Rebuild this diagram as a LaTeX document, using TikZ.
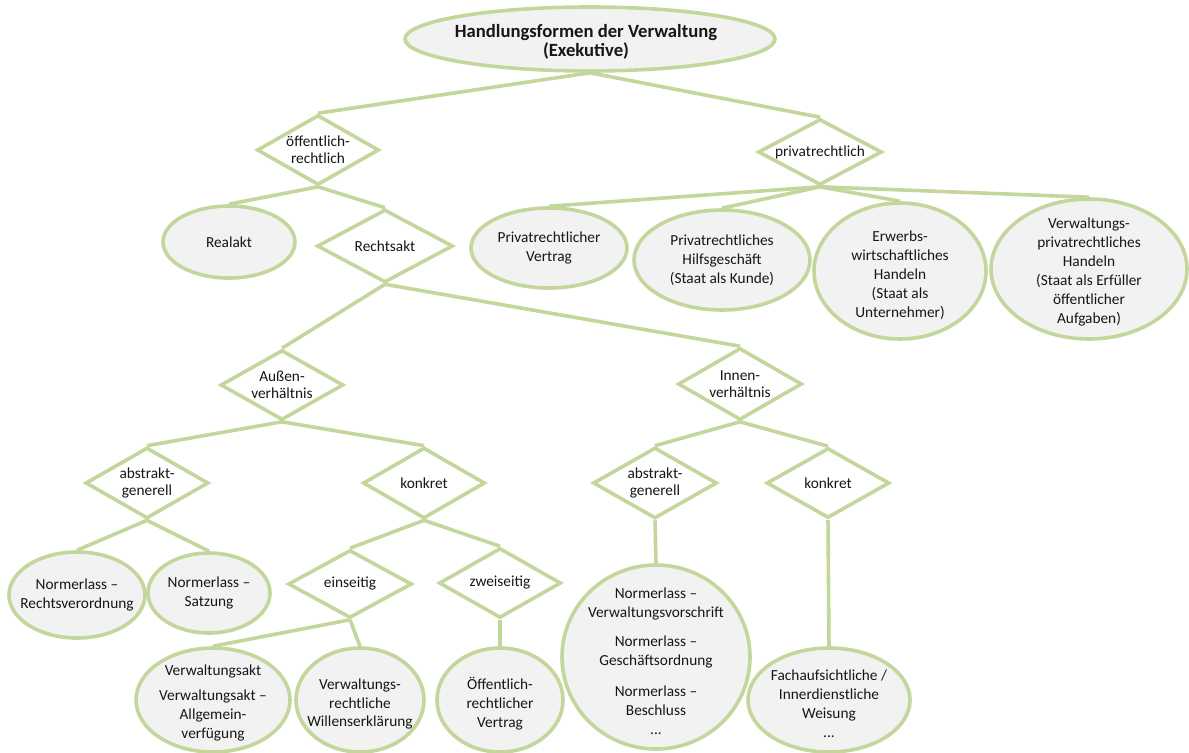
\documentclass[tikz,border=0pt]{standalone}
\usepackage{fontspec}
\setmainfont{Carlito}
\usetikzlibrary{shapes.geometric,backgrounds}
\definecolor{lgreen}{HTML}{C3D69B}
\definecolor{efill}{HTML}{F2F2F2}
\definecolor{txt}{HTML}{161616}
\begin{document}
\begin{tikzpicture}[x=0.75pt,y=-0.75pt,
  ell/.style 2 args={ellipse, draw=lgreen, fill=efill, line width=2.7pt, inner sep=0pt,
    minimum width=#1*0.75pt, minimum height=#2*0.75pt},
  dia/.style 2 args={diamond, draw=lgreen, fill=white, line width=2.7pt, inner sep=0pt,
    minimum width=#1*0.75pt, minimum height=#2*0.75pt},
  conn/.style={draw=lgreen, line width=2.7pt},
  lab/.style={font=\fontsize{11.5}{14.2}\selectfont, text=txt, align=center, inner sep=0pt},
  dlab/.style={font=\fontsize{11.5}{12.8}\selectfont, text=txt, align=center, inner sep=0pt},
  tlab/.style={font=\fontsize{14}{14.3}\selectfont\bfseries, text=txt, align=center, inner sep=0pt}]
\useasboundingbox (0,0) rectangle (1189,753);

% top
\node[ell={370}{64}, label={[tlab,xshift=-3pt,yshift=-2pt]center:{Handlungsformen der Verwaltung\\(Exekutive)}}] (top) at (590,39) {};

% level 2
\node[dia={122}{70}, label={[dlab]center:{öffentlich-\\rechtlich}}] (oer) at (318,150) {};
\node[dia={124}{66}, label={[dlab]center:{privatrechtlich}}] (pr) at (820,152) {};

% level 3
\node[ell={132}{72}, label={[lab]center:{Realakt}}] (real) at (229,242) {};
\node[dia={136}{73}, label={[dlab]center:{Rechtsakt}}] (rakt) at (385,246) {};
\node[ell={156}{80}, label={[lab]center:{Privatrechtlicher\\Vertrag}}] (pv) at (549,248) {};
\node[ell={176}{100}, label={[lab]center:{Privatrechtliches\\Hilfsgeschäft\\(Staat als Kunde)}}] (ph) at (722,260) {};
\node[ell={172}{136}, label={[lab,yshift=-3pt]center:{Erwerbs-\\wirtschaftliches\\Handeln\\(Staat als\\Unternehmer)}}] (eh) at (900,271) {};
\node[ell={196}{140}, label={[lab,yshift=-2pt]center:{Verwaltungs-\\privatrechtliches\\Handeln\\(Staat als Erfüller\\öffentlicher\\Aufgaben)}}] (vph) at (1089,269) {};

% level 4
\node[dia={123}{70}, label={[dlab]center:{Außen-\\verhältnis}}] (aus) at (282,385) {};
\node[dia={124}{72}, label={[dlab]center:{Innen-\\verhältnis}}] (inn) at (740,384) {};

% level 5
\node[dia={123}{71}, label={[dlab]center:{abstrakt-\\generell}}] (ag1) at (147,483) {};
\node[dia={122}{71}, label={[dlab]center:{konkret}}] (ko1) at (424,483) {};
\node[dia={124}{71}, label={[dlab]center:{abstrakt-\\generell}}] (ag2) at (655,483) {};
\node[dia={123}{70}, label={[dlab]center:{konkret}}] (ko2) at (828,483) {};

% level 6
\node[ell={136}{86}, label={[lab]center:{Normerlass --\\Rechtsverordnung}}] (nr) at (77,595) {};
\node[ell={122}{80}, label={[lab]center:{Normerlass --\\Satzung}}] (ns) at (209,593) {};
\node[dia={124}{68}, label={[dlab]center:{einseitig}}] (ein) at (350,584) {};
\node[dia={122}{70}, label={[dlab]center:{zweiseitig}}] (zwei) at (500,583) {};
\node[ell={188}{184}, label={[lab,yshift=-3pt]center:{Normerlass --\\Verwaltungsvorschrift\\[8pt]Normerlass --\\Geschäftsordnung\\[9pt]Normerlass --\\Beschluss\\...}}] (big) at (656,657) {};
\node[ell={162}{104}, label={[lab,yshift=-3pt]center:{Fachaufsichtliche /\\Innerdienstliche\\Weisung\\...}}] (fach) at (829,700) {};

% level 7
\node[ell={154}{104}, label={[lab,yshift=-2pt]center:{Verwaltungsakt\\[4.5pt]Verwaltungsakt --\\Allgemein-\\verfügung}}] (va) at (213,700) {};
\node[ell={128}{104}, label={[lab,yshift=-3pt]center:{Verwaltungs-\\rechtliche\\Willenserklärung}}] (vwe) at (360,700) {};
\node[ell={126}{104}, label={[lab,yshift=-3pt]center:{Öffentlich-\\rechtlicher\\Vertrag}}] (oerv) at (500,700) {};

\begin{scope}[on background layer]
\draw[conn] (top.south) -- (oer.north);
\draw[conn] (top.south) -- (pr.north);
\draw[conn] (oer.south) -- (real.north);
\draw[conn] (oer.south) -- (rakt.north);
\draw[conn] (pr.south) -- (pv.north);
\draw[conn] (pr.south) -- (ph.north);
\draw[conn] (pr.south) -- (eh.north);
\draw[conn] (pr.south) -- (vph.north);
\draw[conn] (rakt.south) -- (aus.north);
\draw[conn] (rakt.south) -- (inn.north);
\draw[conn] (aus.south) -- (ag1.north);
\draw[conn] (aus.south) -- (ko1.north);
\draw[conn] (inn.south) -- (ag2.north);
\draw[conn] (inn.south) -- (ko2.north);
\draw[conn] (ag1.south) -- (nr.north);
\draw[conn] (ag1.south) -- (ns.north);
\draw[conn] (ko1.south) -- (ein.north);
\draw[conn] (ko1.south) -- (zwei.north);
\draw[conn] (ag2.south) -- (big.north);
\draw[conn] (ko2.south) -- (fach.north);
\draw[conn] (ein.south) -- (va.north);
\draw[conn] (ein.south) -- (vwe.north);
\draw[conn] (zwei.south) -- (oerv.north);
\end{scope}
\end{tikzpicture}
\end{document}
